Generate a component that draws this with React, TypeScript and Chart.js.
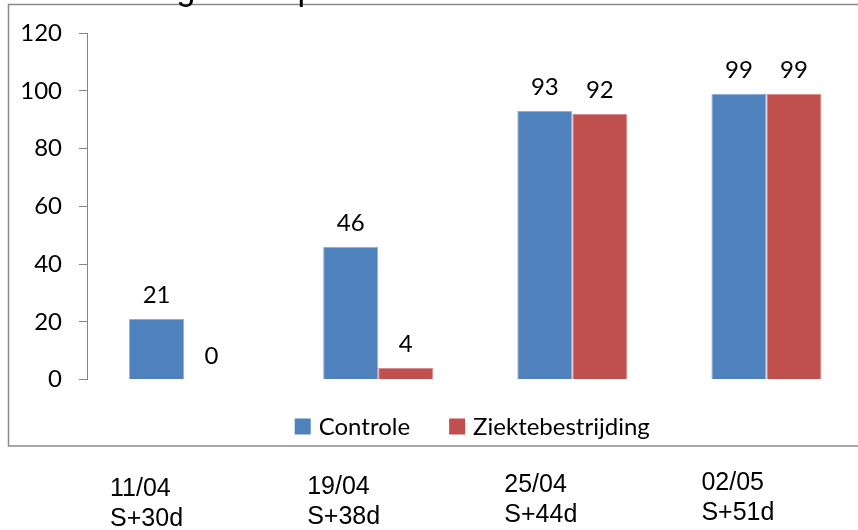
import React, { useEffect, useRef } from "react";
import { Chart, registerables } from "chart.js";

Chart.register(...registerables);

const TITLE = "% aangetaste planten";
const CATEGORY_DATES = ["11/04", "19/04", "25/04", "02/05"];
const CATEGORY_DAYS = ["S+30d", "S+38d", "S+44d", "S+51d"];
const SERIES_NAMES = ["Controle", "Ziektebestrijding"];
const CONTROLE = [21, 46, 93, 99];
const ZIEKTEBESTRIJDING = [0, 4, 92, 99];
const Y_MIN = 0;
const Y_MAX = 120;
const Y_STEP = 20;

const BLUE = "#4F81BD";
const RED = "#C0504D";
const BLUE_EDGE = "#8fb0da";
const RED_EDGE = "#d98f8d";
const AXIS_GRAY = "#868686";
const CALIBRI_LIKE = "Lato, 'Open Sans', sans-serif";
const ARIAL_LIKE = "'Liberation Sans', Arial, sans-serif";
const FONT_SIZE = 24;

const framePlugin = {
  id: "frame",
  beforeDraw(chart: any) {
    const { ctx, width, height } = chart;
    ctx.save();
    ctx.fillStyle = "#ffffff";
    ctx.fillRect(0, 0, width, height);
    ctx.strokeStyle = "#8a8a8a";
    ctx.lineWidth = 1.5;
    ctx.strokeRect(8.5, 4.5, width + 40, 441.5);
    ctx.restore();
  },
  afterDraw(chart: any) {
    const { ctx } = chart;
    ctx.save();
    ctx.fillStyle = "#000";
    ctx.font = `34px ${ARIAL_LIKE}`;
    ctx.textAlign = "left";
    ctx.textBaseline = "alphabetic";
    ctx.fillText(TITLE, 80, 0);
    ctx.restore();
  },
};

const dataLabelPlugin = {
  id: "dataLabels",
  afterDatasetsDraw(chart: any) {
    const { ctx } = chart;
    ctx.save();
    ctx.fillStyle = "#000";
    ctx.font = `${FONT_SIZE}px ${CALIBRI_LIKE}`;
    ctx.textAlign = "center";
    ctx.textBaseline = "alphabetic";
    chart.data.datasets.forEach((ds: any, di: number) => {
      const meta = chart.getDatasetMeta(di);
      meta.data.forEach((bar: any, i: number) => {
        ctx.fillText(String(ds.data[i]), bar.x, bar.y - 16);
      });
    });
    ctx.restore();
  },
};

const legendPlugin = {
  id: "customLegend",
  afterDraw(chart: any) {
    const { ctx, chartArea } = chart;
    const box = 16;
    const gap = 8;
    const itemPad = 39;
    ctx.save();
    ctx.font = `${FONT_SIZE}px ${CALIBRI_LIKE}`;
    const items = chart.data.datasets.map((ds: any) => ({
      text: ds.label,
      color: ds.backgroundColor,
      w: box + gap + ctx.measureText(ds.label).width,
    }));
    const total = items.reduce((s: number, it: any) => s + it.w, 0) + itemPad * (items.length - 1);
    let x = (chartArea.left + chartArea.right) / 2 - 3 - total / 2;
    const boxTop = chartArea.bottom + 39;
    items.forEach((it: any) => {
      ctx.fillStyle = it.color;
      ctx.fillRect(x, boxTop, box, box);
      ctx.fillStyle = "#000";
      ctx.textAlign = "left";
      ctx.textBaseline = "middle";
      ctx.fillText(it.text, x + box + gap, boxTop + box / 2 + 1);
      x += it.w + itemPad;
    });
    ctx.restore();
  },
};

const categoryLabelPlugin = {
  id: "categoryLabels",
  afterDraw(chart: any) {
    const { ctx, chartArea } = chart;
    const xScale = chart.scales.x;
    ctx.save();
    ctx.fillStyle = "#000";
    ctx.font = `25px ${ARIAL_LIKE}`;
    ctx.textAlign = "left";
    ctx.textBaseline = "alphabetic";
    CATEGORY_DATES.forEach((d, i) => {
      const x = xScale.getPixelForValue(i) - 74 + i * 3;
      const y = chartArea.bottom + 116 - i * 2;
      ctx.fillText(d, x, y);
      ctx.fillText(CATEGORY_DAYS[i], x, y + 30);
    });
    ctx.restore();
  },
};

export default function App() {
  const canvasRef = useRef<HTMLCanvasElement | null>(null);

  useEffect(() => {
    document.body.style.margin = "0";
    const canvas = canvasRef.current;
    if (!canvas) return;
    const chart = new Chart(canvas, {
      type: "bar",
      data: {
        labels: CATEGORY_DATES,
        datasets: [
          {
            label: SERIES_NAMES[0],
            data: CONTROLE,
            backgroundColor: BLUE,
            borderColor: BLUE_EDGE,
            borderWidth: 1,
          },
          {
            label: SERIES_NAMES[1],
            data: ZIEKTEBESTRIJDING,
            backgroundColor: RED,
            borderColor: RED_EDGE,
            borderWidth: 1,
          },
        ],
      },
      options: {
        responsive: false,
        animation: false,
        devicePixelRatio: 1,
        layout: { padding: { left: 9.5, right: 6.5, top: 33.2, bottom: 150.5 } },
        datasets: {
          bar: { categoryPercentage: 0.567, barPercentage: 1.0 },
        },
        plugins: {
          legend: { display: false },
          title: { display: false },
          tooltip: { enabled: false },
        },
        scales: {
          x: { display: false },
          y: {
            min: Y_MIN,
            max: Y_MAX,
            afterFit: (scale: any) => {
              scale.width = 77.5;
            },
            ticks: {
              stepSize: Y_STEP,
              padding: 17,
              color: "#000",
              font: { family: CALIBRI_LIKE, size: FONT_SIZE },
            },
            grid: {
              drawOnChartArea: false,
              drawTicks: true,
              tickLength: 8,
              color: AXIS_GRAY,
              lineWidth: 1,
            },
            border: { display: true, color: AXIS_GRAY, width: 1 },
          },
        },
      },
      plugins: [framePlugin, dataLabelPlugin, legendPlugin, categoryLabelPlugin],
    });
    return () => chart.destroy();
  }, []);

  return (
    <div
      style={{
        position: "fixed",
        left: 0,
        top: 0,
        width: 858,
        height: 530,
        overflow: "hidden",
        background: "#fff",
      }}
    >
      <canvas ref={canvasRef} width={870} height={530} style={{ display: "block" }} />
    </div>
  );
}
